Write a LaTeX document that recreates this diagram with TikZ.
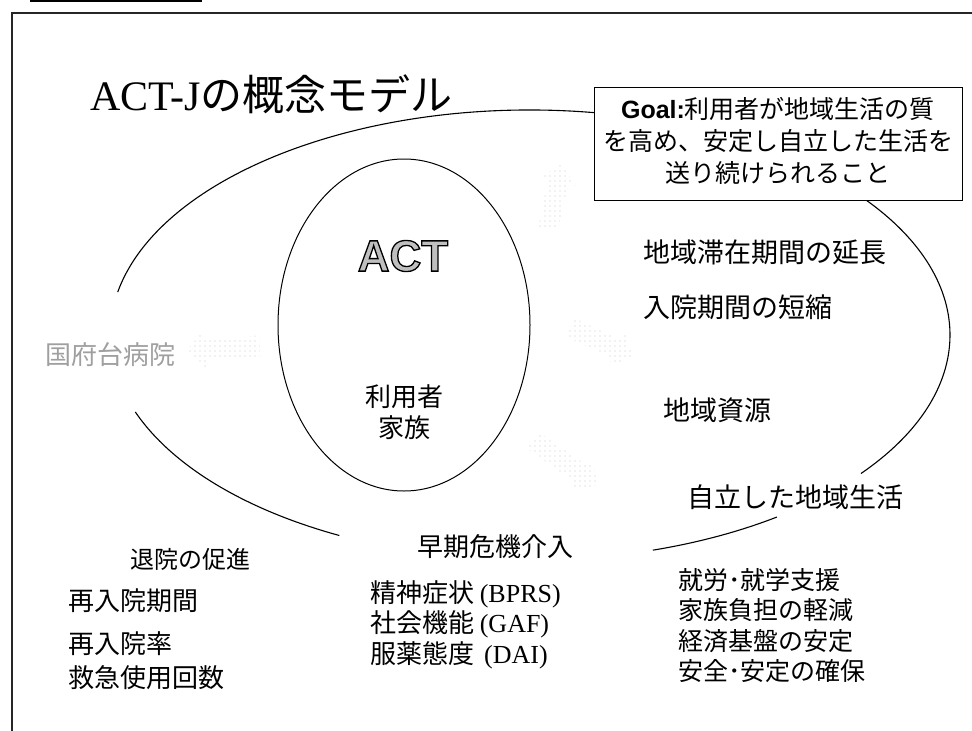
\documentclass[tikz,border=0pt]{standalone}
\usepackage{fontspec}
\setmainfont{Liberation Serif}
\newfontfamily\jp{Noto Sans CJK JP}
\newfontfamily\arial{Liberation Sans}
\usetikzlibrary{shapes.arrows,shapes.geometric,patterns}
\pgfdeclarepatternformonly{stipple}{\pgfqpoint{-1pt}{-1pt}}{\pgfqpoint{4pt}{4pt}}{\pgfqpoint{5pt}{5pt}}%
  {\pgfpathcircle{\pgfqpoint{0pt}{0pt}}{0.7pt}\pgfusepath{fill}}
\newcommand{\outlinetext}[1]{\special{pdf:literal direct 2 Tr 1.3 w 0 0 0 RG}#1\special{pdf:literal direct 0 Tr}}
\begin{document}
\begin{tikzpicture}[x=1pt,y=-1pt,
  every node/.style={inner sep=0pt,outer sep=0pt},
  frameline/.style={line width=1.4pt,black!85},
  curve/.style={line width=1.1pt},
  lbl/.style={font=\jp\fontsize{26}{30}\selectfont,anchor=west},
  lblc/.style={font=\jp\fontsize{26}{30}\selectfont},
  dotarrow/.style={single arrow,draw=none,pattern=stipple,pattern color=gray!45,
     single arrow head extend=8pt,single arrow tip angle=90,minimum width=38pt,inner sep=9pt}]
\useasboundingbox (0,0) rectangle (972,731);
% page frame
\coordinate (ftl) at (12,13);
\coordinate (ftr) at (972,13);
\coordinate (fbl) at (12,731);
\draw[frameline] (ftr) -- (ftl) -- (fbl);
\coordinate (ul1) at (30,1);
\coordinate (ul2) at (202,1);
\draw[line width=2pt] (ul1) -- (ul2);
% title
\node[anchor=base west,font=\fontsize{42}{42}\selectfont] (title) at (90,110) {ACT-J{\jp の概念モデル}};
% big community curve (broken by labels)
\coordinate (c) at (530,335);
\draw[curve] (c) ++(-81:420 and 225) arc[start angle=-81,end angle=-169,x radius=420,y radius=225];
\draw[curve] (c) ++(-37:420 and 225) arc[start angle=-37,end angle=38,x radius=420,y radius=225];
\draw[curve] (c) ++(54:420 and 225) arc[start angle=54,end angle=73,x radius=420,y radius=225];
\draw[curve] (c) ++(117:420 and 225) arc[start angle=117,end angle=160,x radius=420,y radius=225];
% goal box
\node[draw,line width=1pt,minimum width=368,minimum height=113,fill=white] (goal) at (778,143.5) {};
\node[font=\jp\fontsize{25}{32}\selectfont,align=center] (goaltxt) at (778,141)
  {{\arial\bfseries Goal:}利用者が地域生活の質\\を高め、安定し自立した生活を\\送り続けられること};
% ACT ellipse
\node[draw,ellipse,line width=1pt,minimum width=252,minimum height=332] (act) at (404,325) {};
\node[font=\arial\bfseries\fontsize{44}{44}\selectfont,text=gray!50] (actlbl) at (403,256) {\outlinetext{ACT}};
\node[lblc] (user) at (404,397) {利用者};
\node[lblc] (fam) at (404,428) {家族};
% dotted arrows
\node[dotarrow,rotate=79,minimum height=66] (ar1) at (554,201) {};
\node[dotarrow,rotate=-25,minimum height=70] (ar2) at (597,340) {};
\node[dotarrow,rotate=184,minimum height=74] (ar3) at (228,348) {};
\node[dotarrow,rotate=-35,minimum height=78] (ar4) at (561,460) {};
% labels
\node[lbl,text=gray!75] (kohnodai) at (45,355) {国府台病院};
\node[lbl,font=\jp\fontsize{27}{30}\selectfont] (stay) at (643,252) {地域滞在期間の延長};
\node[lbl,font=\jp\fontsize{27}{30}\selectfont] (short) at (643,307) {入院期間の短縮};
\node[lbl,font=\jp\fontsize{27}{30}\selectfont] (res) at (663,410) {地域資源};
\node[lbl,font=\jp\fontsize{27}{30}\selectfont] (indep) at (687,497) {自立した地域生活};
\node[lbl,font=\jp\fontsize{25}{30}\selectfont] (r1) at (678,580) {就労･就学支援};
\node[lbl,font=\jp\fontsize{25}{30}\selectfont] (r2) at (678,610) {家族負担の軽減};
\node[lbl,font=\jp\fontsize{25}{30}\selectfont] (r3) at (678,641) {経済基盤の安定};
\node[lbl,font=\jp\fontsize{25}{30}\selectfont] (r4) at (678,671) {安全･安定の確保};
\node[lbl] (crisis) at (417,547) {早期危機介入};
\node[lbl] (m1) at (370,594) {精神症状 {\rmfamily\fontsize{26}{30}\selectfont (BPRS)}};
\node[lbl] (m2) at (370,624) {社会機能 {\rmfamily\fontsize{26}{30}\selectfont (GAF)}};
\node[lbl] (m3) at (370,655) {服薬態度 {\rmfamily\fontsize{26}{30}\selectfont \,(DAI)}};
\node[lbl,font=\jp\fontsize{24}{30}\selectfont] (disch) at (130,559) {退院の促進};
\node[lbl] (l1) at (68,601) {再入院期間};
\node[lbl] (l2) at (68,644) {再入院率};
\node[lbl] (l3) at (68,678) {救急使用回数};
\end{tikzpicture}
\end{document}
